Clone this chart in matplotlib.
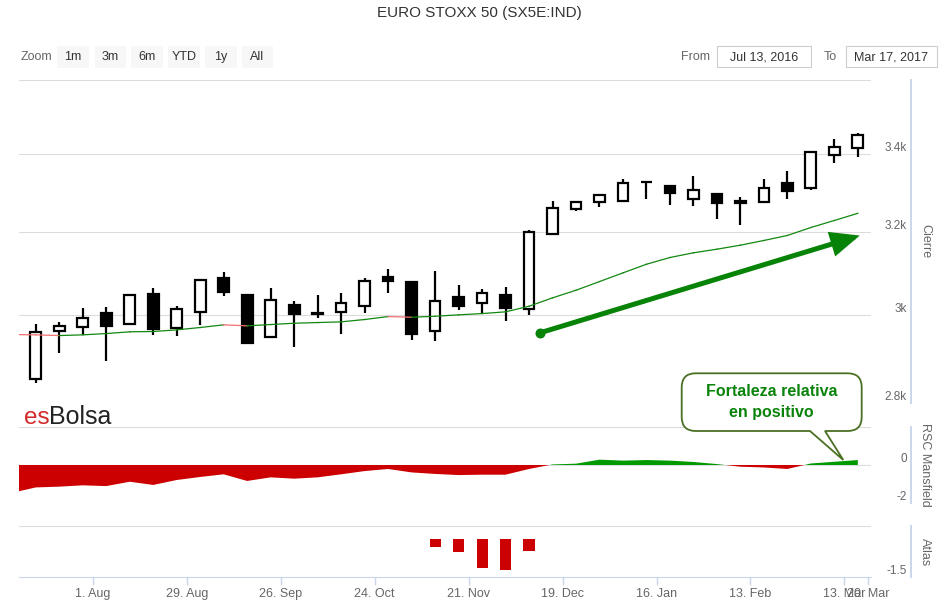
import matplotlib
matplotlib.use('Agg')
import matplotlib.pyplot as plt
import matplotlib.dates as mdates
import numpy as np
import pandas as pd
from matplotlib.lines import Line2D
from matplotlib.patches import Rectangle, PathPatch
from matplotlib.path import Path
from matplotlib.transforms import blended_transform_factory, offset_copy

W, H = 944, 607
plt.rcParams['font.family'] = ['Liberation Sans', 'DejaVu Sans']

# weekly candles (Friday of each week)
weeks = pd.date_range('2016-07-15', periods=36, freq='7D')
opens = [2854, 2961, 2972, 3004, 2979, 3049, 2968, 3005, 3087, 3045, 2947, 3023,
         3001, 3005, 3021, 3088, 3077, 2962, 3042, 3028, 3045, 3014, 3193, 3257,
         3275, 3277, 3325, 3315, 3283, 3294, 3276, 3275, 3323, 3309, 3397, 3415]
highs = [2977, 2983, 3016, 3018, 3049, 3063, 3019, 3082, 3101, 3046, 3063, 3032,
         3045, 3051, 3087, 3108, 3078, 3104, 3070, 3061, 3064, 3204, 3276, 3278,
         3292, 3334, 3327, 3316, 3342, 3295, 3287, 3334, 3355, 3407, 3439, 3455]
lows = [2844, 2911, 2953, 2894, 2978, 2952, 2950, 2975, 3043, 2932, 2946, 2925,
        2991, 2954, 3004, 3051, 2941, 2938, 3010, 3004, 2984, 2998, 3192, 3251,
        3261, 3274, 3282, 3266, 3263, 3232, 3216, 3274, 3281, 3305, 3374, 3390]
closes = [2960, 2973, 2991, 2973, 3045, 2966, 3012, 3081, 3052, 2934, 3034, 3002,
          3003, 3026, 3079, 3079, 2954, 3031, 3019, 3050, 3015, 3198, 3259, 3275,
          3291, 3323, 3326, 3297, 3304, 3272, 3272, 3309, 3303, 3404, 3416, 3450]

# moving average and RSC Mansfield start one week earlier
line_dates = pd.date_range('2016-07-08', periods=37, freq='7D')
ma = [2953.7, 2953.0, 2951.4, 2953.0, 2956.0, 2960.0, 2960.7, 2964.5, 2969.9, 2976.1,
      2973.8, 2976.8, 2979.8, 2981.4, 2983.0, 2988.4, 2995.3, 2993.7, 2996.0, 2999.3,
      3002.3, 3006.3, 3019.4, 3039.2, 3057.2, 3077.9, 3098.8, 3119.6, 3136.0, 3147.5,
      3156.3, 3166.2, 3177.8, 3190.2, 3210.0, 3227.6, 3245.6]
ma_red_segments = [0, 1, 9, 16]
rsc = [-1.46, -1.18, -1.14, -1.07, -1.11, -0.88, -1.05, -0.79, -0.63, -0.49,
       -0.84, -0.65, -0.72, -0.65, -0.49, -0.32, -0.21, -0.39, -0.47, -0.53,
       -0.51, -0.51, -0.21, 0.03, 0.07, 0.28, 0.23, 0.26, 0.23, 0.16,
       0.05, -0.09, -0.13, -0.21, 0.08, 0.17, 0.26]

atlas_dates = pd.to_datetime(['2016-11-11', '2016-11-18', '2016-11-25', '2016-12-02', '2016-12-09'])
atlas = [-0.33, -0.52, -1.15, -1.23, -0.48]

tick_dates = pd.to_datetime(['2016-08-01', '2016-08-29', '2016-09-26', '2016-10-24', '2016-11-21',
                             '2016-12-19', '2017-01-16', '2017-02-13', '2017-03-13', '2017-03-20'])
tick_labels = ['1. Aug', '29. Aug', '26. Sep', '24. Oct', '21. Nov',
               '19. Dec', '16. Jan', '13. Feb', '13. Mar', '20. Mar']

price_ticks = [2800, 3000, 3200, 3400, 3600]
price_labels = ['2.8k', '3k', '3.2k', '3.4k', '']

arrow_start = (pd.Timestamp('2016-12-12 10:00'), 2958)
arrow_end = (pd.Timestamp('2017-03-17 14:00'), 3190)

GRID = '#dcdcdc'
AXIS = '#ccd6eb'
LABEL = '#666666'


def fx(x):
    return x / W


def fy(y):
    return 1 - y / H


fig = plt.figure(figsize=(W / 100, H / 100), dpi=100)
X0, X1 = 19, 870.7
xlim = (mdates.date2num(pd.Timestamp('2016-07-10')), mdates.date2num(pd.Timestamp('2017-03-20 20:00')))


def panel(top, bottom):
    ax = fig.add_axes([fx(X0), fy(bottom), fx(X1) - fx(X0), fy(top) - fy(bottom)])
    ax.set_xlim(xlim)
    for s in ax.spines.values():
        s.set_visible(False)
    ax.tick_params(left=False, right=False, bottom=False, labelleft=False, labelbottom=False)
    fig.add_artist(Line2D([fx(910.7)] * 2, [fy(top), fy(bottom)], transform=fig.transFigure,
                          color=AXIS, lw=1.4))
    return ax


def ylabels(ax, vals, labels):
    tr = offset_copy(blended_transform_factory(fig.transFigure, ax.transData), fig=fig, y=6, units='dots')
    for v, s in zip(vals, labels):
        ax.text(fx(907), v, s, transform=tr, ha='right', va='center', fontsize=8.5,
                color=LABEL, clip_on=False)


# ---- price panel
ax = panel(80, 403.3)
ax.set_yscale('log')
ax.set_ylim(2800, 3600)
ax.set_yticks(price_ticks)
ax.minorticks_off()
ax.tick_params(left=False, labelleft=False)
ax.grid(axis='y', color=GRID, lw=0.8)
ax.set_axisbelow(True)
ylabels(ax, price_ticks, price_labels)

xs = mdates.date2num(weeks.to_pydatetime())
o = np.array(opens)
c = np.array(closes)
ax.vlines(xs, lows, highs, color='black', lw=1.6, zorder=2)
ax.bar(xs, np.abs(c - o), bottom=np.minimum(o, c), width=3.2,
       color=np.where(c >= o, 'white', 'black'), edgecolor='black', lw=1.6, zorder=3)

lx = mdates.date2num(line_dates.to_pydatetime())
for i in range(len(lx) - 1):
    col = '#f47070' if i in ma_red_segments else '#118811'
    ax.plot(lx[i:i + 2], ma[i:i + 2], color=col, lw=0.9, zorder=4)

sx = mdates.date2num(arrow_start[0])
ex = mdates.date2num(arrow_end[0])
ax.annotate('', xy=(ex, arrow_end[1]), xytext=(sx, arrow_start[1]),
            arrowprops=dict(arrowstyle='-|>,head_length=1.5,head_width=0.65', mutation_scale=10,
                            color='#078307', lw=3.6, shrinkA=0, shrinkB=0, joinstyle='miter'),
            zorder=6)
ax.plot([sx], [arrow_start[1]], 'o', ms=6.2, color='#078307', zorder=6)

# ---- RSC Mansfield panel
ax2 = panel(427, 503)
ax2.set_ylim(-2, 2)
ax2.set_yticks([-2, 0, 2])
ax2.grid(axis='y', color=GRID, lw=0.8)
ax2.set_axisbelow(True)
ylabels(ax2, [0, -2], ['0', '-2'])
r = np.array(rsc)
ax2.fill_between(lx, r, 0, where=r <= 0, interpolate=True, color='#cc0000', lw=0, zorder=3)
ax2.fill_between(lx, r, 0, where=r >= 0, interpolate=True, color='#009a00', lw=0, zorder=3)

# ---- Atlas panel
ax3 = panel(526.3, 577.3)
ax3.set_ylim(-1.5, 0.5)
ax3.set_yticks([0.5])
ax3.grid(axis='y', color=GRID, lw=0.8)
ax3.set_axisbelow(True)
ylabels(ax3, [-1.5], ['-1.5'])
ax3.bar(mdates.date2num(atlas_dates.to_pydatetime()), atlas, width=3.3, color='#cc0000', zorder=3)
ax3.spines['bottom'].set_visible(True)
ax3.spines['bottom'].set_color(AXIS)
ax3.set_xticks(mdates.date2num(tick_dates.to_pydatetime()))
ax3.set_xticklabels(tick_labels)
ax3.tick_params(axis='x', bottom=True, labelbottom=True, length=6, width=1, color=AXIS,
                labelcolor=LABEL, labelsize=9, pad=2)

# ---- axis titles
for txt, yc in [('Cierre', 241.5), ('RSC Mansfield', 465), ('Atlas', 552)]:
    fig.text(fx(925), fy(yc), txt, rotation=270, ha='center', va='center', fontsize=9, color=LABEL)

# ---- title and range selector
fig.text(fx(479.5), fy(13.3), 'EURO STOXX 50 (SX5E:IND)', ha='center', va='center',
         fontsize=11, color='#333333')
fig.text(fx(36), fy(57), 'Zoom', ha='center', va='center', fontsize=9, color=LABEL)
for lab, x0, x1 in [('1m', 57, 89), ('3m', 95, 126), ('6m', 131, 163),
                    ('YTD', 168, 200), ('1y', 205, 237), ('All', 242, 273)]:
    fig.add_artist(Rectangle((fx(x0), fy(68)), fx(x1) - fx(x0), fy(46) - fy(68),
                             transform=fig.transFigure, facecolor='#f7f7f7', edgecolor='none'))
    fig.text(fx((x0 + x1) / 2), fy(57), lab, ha='center', va='center', fontsize=9, color='#333333')
fig.text(fx(695), fy(57), 'From', ha='center', va='center', fontsize=9, color=LABEL)
fig.text(fx(830), fy(57), 'To', ha='center', va='center', fontsize=9, color=LABEL)
for lab, x0, x1 in [('Jul 13, 2016', 717, 811), ('Mar 17, 2017', 846, 937)]:
    fig.add_artist(Rectangle((fx(x0), fy(67)), fx(x1) - fx(x0), fy(46) - fy(67),
                             transform=fig.transFigure, facecolor='white', edgecolor='#cccccc', lw=0.8))
    fig.text(fx((x0 + x1) / 2), fy(57), lab, ha='center', va='center', fontsize=9, color='#333333')

# ---- logo
fig.text(fx(24), fy(424), 'es', ha='left', va='baseline', fontsize=17.5, color='#d42a2a')
fig.text(fx(49), fy(424), 'Bolsa', ha='left', va='baseline', fontsize=18, color='#222222')

# ---- callout
bx0, by0, bx1, by1, rad = 681.7, 373.3, 861.7, 431, 14
tip = (843.3, 460)
pts = [((bx0 + rad, by0), Path.MOVETO), ((bx1 - rad, by0), Path.LINETO),
       ((bx1, by0), Path.CURVE3), ((bx1, by0 + rad), Path.CURVE3),
       ((bx1, by1 - rad), Path.LINETO), ((bx1, by1), Path.CURVE3), ((bx1 - rad, by1), Path.CURVE3),
       ((825, by1), Path.LINETO), (tip, Path.LINETO), ((810, by1), Path.LINETO),
       ((bx0 + rad, by1), Path.LINETO), ((bx0, by1), Path.CURVE3), ((bx0, by1 - rad), Path.CURVE3),
       ((bx0, by0 + rad), Path.LINETO), ((bx0, by0), Path.CURVE3), ((bx0 + rad, by0), Path.CURVE3),
       ((bx0 + rad, by0), Path.CLOSEPOLY)]
callout = Path([(fx(p[0]), fy(p[1])) for p, _ in pts], [k for _, k in pts])
fig.add_artist(PathPatch(callout, transform=fig.transFigure, facecolor='white',
                         edgecolor='#4a7023', lw=1.3, zorder=10))
fig.text(fx(771.7), fy(392), 'Fortaleza relativa', ha='center', va='center', fontsize=11.5,
         fontweight='bold', color='#0a830a', zorder=11)
fig.text(fx(771.7), fy(412), 'en positivo', ha='center', va='center', fontsize=11.5,
         fontweight='bold', color='#0a830a', zorder=11)

fig.savefig('out.png', dpi=100)
